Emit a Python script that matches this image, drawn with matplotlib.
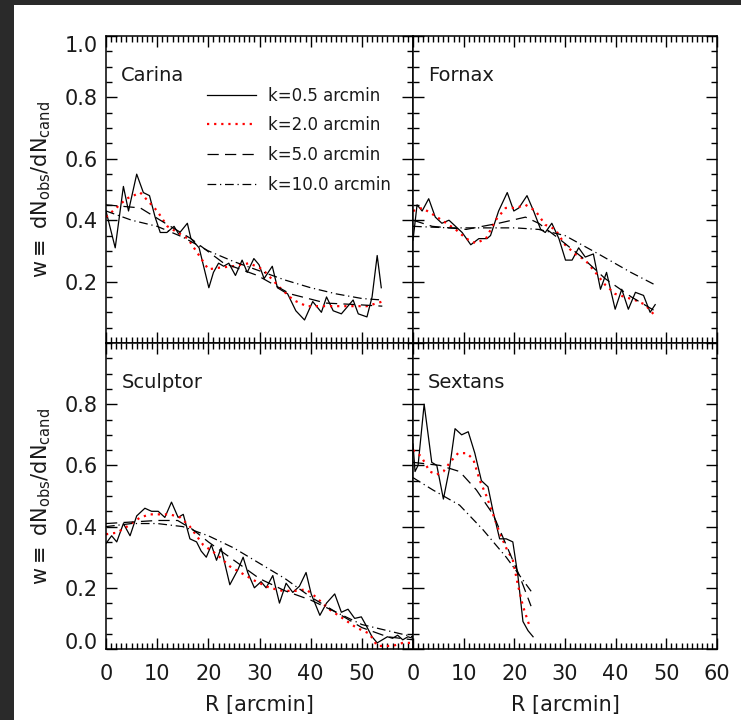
import matplotlib
matplotlib.use("Agg")
import matplotlib.pyplot as plt
from matplotlib.ticker import MultipleLocator, FixedLocator, FixedFormatter

# Carina
carina_r05 = [0, 1.8, 3.4, 4.4, 6.0, 7.3, 8.5, 9.6, 10.6, 11.9, 13.3, 14.2, 15.9, 16.6, 18.2,
              20.1, 21.0, 22.0, 23.0, 24.0, 25.3, 26.6, 27.6, 28.9, 29.9, 30.9, 32.5, 33.5,
              35.5, 37.1, 38.8, 40.4, 42.1, 43.1, 44.4, 46.0, 48.3, 49.3, 51.0, 52.0, 53.0, 53.8]
carina_w05 = [0.43, 0.31, 0.51, 0.43, 0.55, 0.49, 0.48, 0.41, 0.36, 0.36, 0.38, 0.355, 0.39, 0.34,
              0.31, 0.18, 0.23, 0.26, 0.25, 0.26, 0.22, 0.27, 0.23, 0.275, 0.255, 0.21, 0.25,
              0.18, 0.16, 0.105, 0.075, 0.135, 0.10, 0.15, 0.105, 0.095, 0.14, 0.095, 0.085,
              0.15, 0.285, 0.18]
carina_r2 = [0, 2, 4, 6.7, 10, 12, 16, 18, 20, 22, 24.8, 28, 30.6, 34, 36.6, 39.2, 43, 47, 51, 54]
carina_w2 = [0.41, 0.44, 0.47, 0.49, 0.43, 0.38, 0.34, 0.29, 0.24, 0.245, 0.25, 0.26, 0.24,
             0.18, 0.14, 0.12, 0.12, 0.12, 0.12, 0.135]
carina_r5 = [0, 6.7, 10.6, 16.6, 23, 29.6, 36, 43, 49, 54]
carina_w5 = [0.45, 0.44, 0.40, 0.34, 0.26, 0.22, 0.16, 0.13, 0.125, 0.12]
carina_r10 = [0, 5, 10, 15, 20, 25, 30, 35, 40, 45, 50, 54]
carina_w10 = [0.43, 0.40, 0.38, 0.345, 0.30, 0.265, 0.235, 0.205, 0.18, 0.16, 0.145, 0.14]

# Fornax
fornax_r05 = [0, 0.8, 1.8, 3.1, 4.4, 5.7, 7.1, 8.4, 9.7, 11.4, 13.0, 14.6, 15.3, 16.9, 18.6,
              19.9, 20.9, 22.5, 23.8, 25.2, 26.1, 27.4, 28.8, 30.1, 31.4, 32.7, 34.0, 35.6,
              37.0, 38.2, 39.9, 41.2, 42.5, 43.9, 45.5, 46.8, 47.8]
fornax_w05 = [0.335, 0.45, 0.43, 0.47, 0.41, 0.39, 0.40, 0.38, 0.36, 0.32, 0.34, 0.34, 0.35,
              0.43, 0.49, 0.43, 0.44, 0.48, 0.43, 0.37, 0.36, 0.39, 0.34, 0.27, 0.27, 0.31,
              0.28, 0.29, 0.175, 0.23, 0.11, 0.175, 0.11, 0.165, 0.155, 0.10, 0.125]
fornax_r2 = [0, 1.8, 3.8, 5.7, 8.4, 10.5, 12.4, 14.4, 16.3, 18.3, 20.3, 22.2, 24.2, 26.1, 28.1,
             30, 32, 34, 36, 37.9, 39.9, 41.8, 43.8, 45.8, 47.7]
fornax_w2 = [0.43, 0.44, 0.42, 0.40, 0.37, 0.34, 0.325, 0.34, 0.40, 0.44, 0.44, 0.45, 0.43,
             0.385, 0.37, 0.32, 0.29, 0.27, 0.23, 0.19, 0.16, 0.15, 0.14, 0.125, 0.09]
fornax_r5 = [0, 3.8, 10.5, 16.9, 22.2, 24.8, 28.8, 33.3, 37.9, 43.1, 47.7]
fornax_w5 = [0.40, 0.38, 0.37, 0.39, 0.41, 0.39, 0.34, 0.28, 0.21, 0.15, 0.105]
fornax_r10 = [0, 7.2, 13.7, 20.2, 24.8, 30, 36.6, 43, 47.7]
fornax_w10 = [0.38, 0.375, 0.375, 0.375, 0.37, 0.35, 0.29, 0.23, 0.19]

# Sculptor
sculptor_r05 = [0, 1.1, 2.1, 3.4, 4.7, 6.0, 7.6, 8.9, 10.2, 11.5, 12.8, 14.1, 15.1, 16.4, 17.7,
                18.6, 19.6, 20.6, 21.6, 22.5, 24.2, 25.8, 26.8, 27.7, 29.0, 30.3, 31.3, 32.6,
                33.9, 35.2, 36.5, 37.8, 39.1, 40.1, 41.8, 43.1, 44.7, 46.0, 47.3, 48.6, 49.9,
                50.9, 52, 53, 54, 55, 56, 57, 58, 59, 60]
sculptor_w05 = [0.345, 0.37, 0.35, 0.41, 0.37, 0.435, 0.46, 0.45, 0.45, 0.43, 0.48, 0.43, 0.44,
                0.36, 0.35, 0.32, 0.30, 0.34, 0.29, 0.33, 0.21, 0.26, 0.30, 0.25, 0.20, 0.22,
                0.20, 0.24, 0.15, 0.215, 0.185, 0.205, 0.25, 0.18, 0.11, 0.15, 0.18, 0.12, 0.13,
                0.10, 0.105, 0.075, 0.04, 0.02, 0.03, 0.04, 0.035, 0.045, 0.03, 0.04, 0.035]
sculptor_r2 = [0, 2.1, 4.1, 6.7, 8.6, 10.6, 12.5, 14.5, 16.4, 19, 21.6, 24.2, 26.8, 29.4, 32,
               34.5, 37.1, 39.1, 41, 43.6, 46.3, 48.9, 51.5, 53, 56, 58, 60]
sculptor_w2 = [0.375, 0.38, 0.40, 0.43, 0.44, 0.44, 0.44, 0.43, 0.40, 0.34, 0.31, 0.27, 0.245,
               0.22, 0.20, 0.19, 0.19, 0.195, 0.17, 0.13, 0.10, 0.07, 0.05, 0.01, 0.01, 0.02, 0.02]
sculptor_r5 = [0, 10, 14, 17, 20, 25, 30, 35, 40, 45, 50, 55, 60]
sculptor_w5 = [0.41, 0.42, 0.42, 0.39, 0.35, 0.29, 0.23, 0.19, 0.16, 0.12, 0.07, 0.04, 0.03]
sculptor_r10 = [0, 5, 10, 15, 20, 25, 30, 35, 40, 45, 50, 55, 60]
sculptor_w10 = [0.40, 0.41, 0.41, 0.40, 0.37, 0.33, 0.28, 0.23, 0.17, 0.12, 0.08, 0.06, 0.04]

# Sextans
sextans_r05 = [0, 0.4, 1.0, 2.2, 3.7, 4.7, 6.0, 7.2, 8.3, 9.6, 10.9, 12.2, 13.5, 14.8, 15.8,
               17.1, 18.4, 19.7, 20.7, 21.7, 22.7, 23.7]
sextans_w05 = [0.67, 0.58, 0.60, 0.80, 0.61, 0.60, 0.49, 0.59, 0.72, 0.70, 0.71, 0.64, 0.55,
               0.53, 0.45, 0.36, 0.36, 0.35, 0.24, 0.09, 0.06, 0.04]
sextans_r2 = [0, 1.6, 3.3, 4.7, 6, 7.3, 8.9, 10.6, 11.9, 13.2, 14.5, 15.8, 17.1, 18.4, 19.7,
              20.7, 21.7, 23]
sextans_w2 = [0.65, 0.63, 0.58, 0.57, 0.58, 0.61, 0.64, 0.64, 0.62, 0.55, 0.50, 0.44, 0.38,
              0.33, 0.29, 0.21, 0.14, 0.075]
sextans_r5 = [0, 5.3, 9.2, 12.5, 15.8, 18.4, 21, 23.3]
sextans_w5 = [0.61, 0.60, 0.58, 0.52, 0.44, 0.34, 0.24, 0.14]
sextans_r10 = [0, 3.9, 9.2, 13.8, 18.4, 23.7]
sextans_w10 = [0.56, 0.52, 0.47, 0.39, 0.30, 0.18]

galaxies = ["Carina", "Fornax", "Sculptor", "Sextans"]
series = {
    "Carina": [(carina_r05, carina_w05), (carina_r2, carina_w2), (carina_r5, carina_w5), (carina_r10, carina_w10)],
    "Fornax": [(fornax_r05, fornax_w05), (fornax_r2, fornax_w2), (fornax_r5, fornax_w5), (fornax_r10, fornax_w10)],
    "Sculptor": [(sculptor_r05, sculptor_w05), (sculptor_r2, sculptor_w2), (sculptor_r5, sculptor_w5), (sculptor_r10, sculptor_w10)],
    "Sextans": [(sextans_r05, sextans_w05), (sextans_r2, sextans_w2), (sextans_r5, sextans_w5), (sextans_r10, sextans_w10)],
}
kernel_labels = ["k=0.5 arcmin", "k=2.0 arcmin", "k=5.0 arcmin", "k=10.0 arcmin"]
line_styles = [
    dict(color="black", lw=0.9, ls="-"),
    dict(color="red", lw=1.6, ls=(0, (1.0, 2.2))),
    dict(color="black", lw=0.9, ls=(0, (9, 5))),
    dict(color="black", lw=0.9, ls=(0, (7, 3, 1, 3))),
]
text_color = "#1a1a1a"

plt.rcParams["font.family"] = "DejaVu Sans"
fig = plt.figure(figsize=(7.41, 7.2), dpi=100)
fig.patch.set_facecolor("white")

# dark slide border along left and top edges
fig.patches.append(plt.Rectangle((0, 0), 14 / 741, 1, transform=fig.transFigure,
                                 facecolor="#2a2a2a", edgecolor="none", zorder=0))
fig.patches.append(plt.Rectangle((0, 1 - 5 / 720), 1, 5 / 720, transform=fig.transFigure,
                                 facecolor="#2a2a2a", edgecolor="none", zorder=0))

x0, xm, x1 = 106 / 741, 413 / 741, 717 / 741
yt, ym, yb = 1 - 36 / 720, 1 - 343 / 720, 1 - 649 / 720
boxes = [
    [x0, ym, xm - x0, yt - ym],
    [xm, ym, x1 - xm, yt - ym],
    [x0, yb, xm - x0, ym - yb],
    [xm, yb, x1 - xm, ym - yb],
]

for i, (name, box) in enumerate(zip(galaxies, boxes)):
    ax = fig.add_axes(box)
    for (r, w), st, lab in zip(series[name], line_styles, kernel_labels):
        ax.plot(r, w, label=lab, **st)
    ax.set_xlim(0, 60)
    ax.set_ylim(0, 1.0)
    ax.xaxis.set_major_locator(MultipleLocator(10))
    ax.xaxis.set_minor_locator(MultipleLocator(1))
    ax.yaxis.set_major_locator(MultipleLocator(0.2))
    ax.yaxis.set_minor_locator(MultipleLocator(0.05))
    ax.tick_params(which="both", direction="in", top=True, right=True, width=1,
                   labelsize=15, colors="black", labelcolor=text_color)
    ax.tick_params(which="major", length=8)
    ax.tick_params(which="minor", length=4)
    ax.tick_params(axis="x", pad=11)
    ax.tick_params(axis="y", pad=6)
    for sp in ax.spines.values():
        sp.set_linewidth(1.1)

    col, row = i % 2, i // 2
    if row == 0:
        ax.set_xticklabels([])
    else:
        xt = [0, 10, 20, 30, 40, 50] if col == 0 else [0, 10, 20, 30, 40, 50, 60]
        ax.xaxis.set_major_locator(FixedLocator(xt))
        ax.xaxis.set_major_formatter(FixedFormatter([str(v) for v in xt]))
        ax.set_xlabel("R [arcmin]", fontsize=15, labelpad=8, color=text_color)
    if col == 1:
        ax.set_yticklabels([])
    else:
        yv = [0.2, 0.4, 0.6, 0.8, 1.0] if row == 0 else [0.0, 0.2, 0.4, 0.6, 0.8]
        ax.yaxis.set_major_locator(FixedLocator(yv))
        ax.yaxis.set_major_formatter(FixedFormatter([f"{v:.1f}" for v in yv]))
        ax.set_ylabel(r"w$\equiv$ dN$_{\rm obs}$/dN$_{\rm cand}$", fontsize=15, labelpad=8,
                      color=text_color)
        # end labels sit inside the frame
        labels = ax.get_yticklabels()
        if row == 0:
            labels[-1].set_va("top")
        else:
            labels[0].set_va("baseline")

    ax.text(0.05, 0.87, name, transform=ax.transAxes, fontsize=14, ha="left", va="center",
            color=text_color)

    if name == "Carina":
        ax.legend(loc="upper left", bbox_to_anchor=(0.33, 0.835), frameon=False, fontsize=12,
                  handlelength=2.9, handletextpad=0.72, labelspacing=0.7, borderpad=0,
                  borderaxespad=0, labelcolor=text_color)

fig.savefig("out.png", dpi=100, facecolor="white")
